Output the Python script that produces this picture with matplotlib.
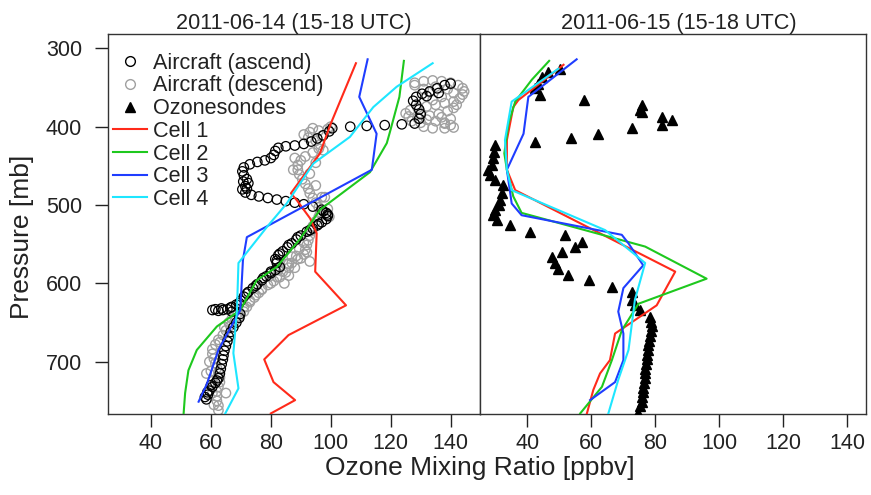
import matplotlib
matplotlib.use("Agg")
import matplotlib.pyplot as plt
from matplotlib.lines import Line2D

plt.rcParams['font.family'] = ['Liberation Sans', 'DejaVu Sans']

# ---- 2011-06-14 : aircraft profiles ----
asc_x = [58.5, 59.0, 59.5, 60.5, 61.5, 62.5, 63.0, 63.3, 63.6, 64.0, 64.2, 64.5, 65.0, 65.5,
         66.0, 66.6, 67.5, 68.5, 69.5, 69.8, 67.0, 64.0, 61.5, 63.5, 66.5, 68.5, 70.0, 71.0,
         72.5, 74.0, 75.5, 77.0, 78.5, 80.0, 81.5, 83.0, 82.0, 81.5, 82.5, 84.0, 85.5, 87.0,
         88.5, 90.0, 92.0, 94.0, 95.5, 97.0, 98.5, 99.0, 98.5, 97.0, 94.0, 91.0, 88.0, 85.0,
         82.0, 79.0, 76.0, 73.5, 71.5, 70.5, 71.5, 72.5, 72.0, 71.0, 70.5, 71.0, 73.0, 75.5,
         78.0, 80.0, 81.0, 81.5, 82.5, 85.0, 88.0, 91.0, 93.5, 95.5, 97.5, 99.5, 100.5, 106.5,
         112.0, 118.0, 123.7, 128.0, 129.5, 130.0, 129.5, 128.5, 127.5, 128.5, 130.5, 133.0,
         135.5, 138.0, 140.0,
         58.0, 58.8, 60.0, 62.0, 65.5, 62.5, 60.5, 67.0, 96.0, 93.0, 89.0, 86.0, 83.0, 82.0,
         80.0, 77.5, 75.0, 72.0, 69.5, 99.0, 97.5, 72.0, 70.8, 132.0, 136.0]
asc_p = [748, 742, 737, 732, 727, 721, 715, 709, 703, 697, 692, 686, 680, 674,
         668, 662, 656, 650, 644, 639, 636, 634, 633, 632, 631, 627, 622, 617,
         611, 606, 601, 596, 591, 587, 583, 579, 574, 569, 564, 559, 554, 549,
         544, 539, 534, 530, 526, 522, 518, 514, 510, 506, 502, 499, 497, 495,
         493, 491, 489, 487, 484, 480, 476, 472, 467, 462, 457, 452, 448, 445,
         443, 440, 436, 431, 427, 425, 424, 422, 419, 415, 411, 406, 402, 400,
         399, 398, 397, 396, 390, 384, 378, 372, 367, 362, 358, 355,
         351, 347, 345,
         745, 739, 730, 724, 633, 635, 634, 630, 524, 532, 541, 551, 562, 571,
         585, 593, 603, 613, 625, 512, 508, 479, 470, 361, 357]

desc_x = [128, 131, 134, 137, 140, 142.5, 144, 144.5, 144, 143, 141, 138, 135, 132, 129,
          126.5, 125, 126, 129, 132, 135, 138, 140, 141, 138, 134, 131, 136, 139, 141,
          130, 133, 137, 140, 131, 135, 139, 141, 128, 133, 137, 142, 134, 138, 130, 127,
          99, 96, 93, 91, 92.5, 95, 96.5, 96, 94, 91.5, 90, 89, 89, 89.5, 90.5, 91.5,
          92.5, 93, 94, 95, 96, 96.5, 96, 95, 94, 93.5, 93, 92.5, 92, 91.5,
          91, 89, 87, 86, 85, 83, 81, 79, 77, 76, 74.5, 73, 72, 71, 69.5, 68, 66.5, 65,
          64, 62.5, 61.5, 60.5, 60.5, 61, 61.5, 62, 62.5, 63, 63, 62.5, 62, 62, 62,
          62.5, 62.5,
          97.5, 95, 93, 95, 97, 99, 99.5,
          88.5, 86, 84, 82, 80, 77, 75, 73, 71, 69, 67, 66, 64.5,
          84.5, 86, 88, 90, 89.5, 87, 85.5, 82.5, 79.5,
          63, 59.5, 60, 60.5, 60.5, 61, 97, 98, 88, 87.5, 91, 92, 93,
          58.5, 65, 100, 94]
desc_p = [344, 342, 341, 342, 344, 347, 351, 355, 359, 364, 368, 370, 372, 374, 376,
          379, 383, 387, 389, 391, 393, 395, 398, 401, 402, 402, 400, 384, 380, 376,
          383, 386, 388, 390, 352, 349, 352, 357, 347, 356, 362, 372, 366, 396, 395, 393,
          403, 405, 407, 410, 414, 418, 423, 428, 433, 438, 443, 449, 455, 461, 467, 473,
          479, 485, 491, 497, 503, 509, 515, 521, 527, 533, 539, 545, 551, 557,
          563, 569, 574, 580, 586, 592, 597, 602, 607, 612, 618, 624, 630, 636, 642, 648, 654, 660,
          666, 672, 678, 684, 690, 696, 702, 708, 714, 720, 726, 732, 738, 744, 750,
          756, 762,
          430, 446, 460, 475, 490, 505, 515,
          565, 575, 585, 592, 600, 608, 615, 622, 630, 638, 645, 650, 656,
          600, 590, 580, 568, 556, 566, 575, 583, 591,
          675, 700, 712, 725, 740, 755, 412, 490, 440, 455, 548, 560, 572,
          715, 740, 400, 402]

# ---- 2011-06-14 : model cells ----
c1_x14 = [108.4, 99.8, 96.4, 86.7, 88.7, 93.1, 95.3, 94.8, 105.1, 85.9, 77.8, 80.9, 88.1, 80.0]
c1_p14 = [319, 398, 434, 485, 494, 517, 536, 585, 628, 666, 697, 726, 749, 766]
c2_x14 = [124.4, 122.9, 119.8, 118.7, 113.1, 96.4, 89.8, 82.0, 75.3, 69.8, 62.0, 55.3, 52.5, 51.4, 50.9]
c2_p14 = [316, 362, 406, 421, 458, 506, 543, 579, 596, 634, 655, 685, 711, 740, 766]
c3_x14 = [112.3, 109.5, 115.3, 113.7, 72.0, 70.7, 69.8, 62.5, 58.7, 55.9]
c3_p14 = [314, 362, 409, 455, 541, 570, 634, 685, 728, 751]
c4_x14 = [134.0, 122.0, 114.2, 106.4, 94.2, 85.3, 78.7, 69.2, 68.7, 67.5, 69.2, 64.8]
c4_p14 = [319, 349, 375, 413, 447, 498, 528, 574, 634, 689, 734, 766]

# ---- 2011-06-15 : ozonesondes ----
sonde_x = [50.2, 46.6, 44.5, 43.4, 42.4, 44.0, 57.8, 75.7, 75.2, 75.7, 82.0, 85.1, 82.0,
           72.6, 62.0, 53.7, 42.4,
           29.9, 29.7, 29.4, 28.9, 27.8, 28.4, 29.9, 32.5, 32.0, 31.5, 31.0, 29.9, 29.4,
           30.4, 34.6, 40.8, 51.8, 57.0, 54.9, 50.8, 47.6, 48.7, 49.7, 52.8, 59.1, 66.4,
           72.6, 72.6, 73.6, 75.2, 78.3, 78.6, 78.8, 78.6, 78.3, 78.0, 77.8, 77.6, 77.5,
           77.3, 77.1, 76.9, 76.8, 76.6, 76.4, 76.2, 76.0, 75.8, 75.7, 75.3, 74.7]
sonde_p = [326, 330, 336, 345, 351, 360, 366, 372, 379, 381, 387, 392, 398,
           402, 409, 414, 419,
           424, 432, 440, 449, 455, 462, 468, 475, 485, 494, 500, 506, 513,
           519, 526, 534, 538, 547, 553, 560, 566, 574, 581, 589, 596, 604,
           611, 621, 628, 634, 643, 649, 655, 661, 667, 673, 679, 685, 691,
           697, 703, 709, 715, 721, 727, 733, 739, 745, 751, 757, 765]

# ---- 2011-06-15 : model cells ----
c1_x15 = [51.3, 37.2, 35.6, 33.6, 33.6, 36.2, 86.2, 80.4, 76.8, 67.4, 65.8, 62.7, 60.6, 58.6]
c1_p15 = [321, 366, 375, 417, 455, 481, 585, 628, 638, 664, 698, 715, 736, 766]
c2_x15 = [46.8, 41.4, 36.2, 34.1, 32.8, 33.6, 35.6, 38.2, 76.8, 96.0, 74.7, 69.5, 66.4, 63.3, 56.5]
c2_p15 = [316, 340, 368, 396, 434, 455, 489, 510, 553, 594, 626, 660, 698, 732, 766]
c3_x15 = [55.4, 40.3, 38.8, 33.6, 35.1, 38.2, 69.5, 71.6, 76.2, 70.0, 68.4, 70.0, 70.0, 67.4, 59.6]
c3_p15 = [314, 362, 409, 455, 498, 513, 538, 549, 577, 606, 636, 664, 698, 726, 749]
c4_x15 = [49.7, 35.1, 33.0, 33.6, 35.1, 64.3, 76.8, 73.6, 71.6, 68.4, 65.3]
c4_p15 = [326, 368, 417, 455, 481, 532, 574, 621, 685, 723, 766]

titles = ["2011-06-14 (15-18 UTC)", "2011-06-15 (15-18 UTC)"]
cell_colors = ['#ff2a1a', '#1ec81e', '#1f3dff', '#1ee6ff']
cell_names = ['Cell 1', 'Cell 2', 'Cell 3', 'Cell 4']

fig = plt.figure(figsize=(8.71, 4.95), dpi=100)
W, H = 871.0, 495.0
ax1 = fig.add_axes([107.5 / W, 1 - 414 / H, 372.5 / W, 380 / H])
ax2 = fig.add_axes([480 / W, 1 - 414 / H, 386 / W, 380 / H])

lw = 1.5
ax1.scatter(desc_x, desc_p, s=46, facecolors='none', edgecolors='#a0a0a0', linewidths=1.0, zorder=2)
ax1.scatter(asc_x, asc_p, s=46, facecolors='none', edgecolors='black', linewidths=0.9, zorder=3)
for xs, ps, col in zip([c1_x14, c2_x14, c3_x14, c4_x14], [c1_p14, c2_p14, c3_p14, c4_p14], cell_colors):
    ax1.plot(xs, ps, color=col, lw=lw, zorder=4)

ax2.plot(sonde_x, sonde_p, ls='none', marker='^', ms=7, color='black', zorder=3)
for xs, ps, col in zip([c1_x15, c2_x15, c3_x15, c4_x15], [c1_p15, c2_p15, c3_p15, c4_p15], cell_colors):
    ax2.plot(xs, ps, color=col, lw=lw, zorder=4)

ax1.set_xlim(25.5, 149.8)
ax2.set_xlim(25.2, 145.8)
for ax, t, tx in zip([ax1, ax2], titles, [0.5, 0.515]):
    ax.set_ylim(766.7, 281.7)
    ax.set_xticks([40, 60, 80, 100, 120, 140])
    ax.tick_params(axis='x', direction='out', length=9, width=1, pad=5, labelsize=15.5,
                   colors='#222222')
    ax.set_title(t, fontsize=15.6, pad=2, color='#222222', x=tx)
    for sp in ax.spines.values():
        sp.set_color('#333333')
        sp.set_linewidth(1)

ax1.set_yticks([300, 400, 500, 600, 700])
ax1.tick_params(axis='y', direction='out', length=9.4, width=1, pad=9, labelsize=15.5,
                colors='#222222')
ax2.set_yticks([])

fig.text(480 / W, 1 - 468 / H, 'Ozone Mixing Ratio [ppbv]', fontsize=19, ha='center', va='center',
         color='#222222')
fig.text(22 / W, 1 - 237 / H, 'Pressure [mb]', fontsize=19, rotation=90, ha='center', va='center',
         color='#222222')

handles = [
    Line2D([], [], ls='none', marker='o', ms=7, mfc='none', mec='black', mew=1.0),
    Line2D([], [], ls='none', marker='o', ms=7, mfc='none', mec='#a0a0a0', mew=1.0),
    Line2D([], [], ls='none', marker='^', ms=7, color='black'),
] + [Line2D([], [], color=c, lw=lw) for c in cell_colors]
labels = ['Aircraft (ascend)', 'Aircraft (descend)', 'Ozonesondes'] + cell_names
ax1.legend(handles, labels, loc='upper left', bbox_to_anchor=(0.014, 0.951), frameon=False,
           fontsize=15.6, borderpad=0, borderaxespad=0, handlelength=1.6, handletextpad=0.25,
           labelspacing=0.08, labelcolor='#222222')

fig.savefig('out.png', dpi=100)
